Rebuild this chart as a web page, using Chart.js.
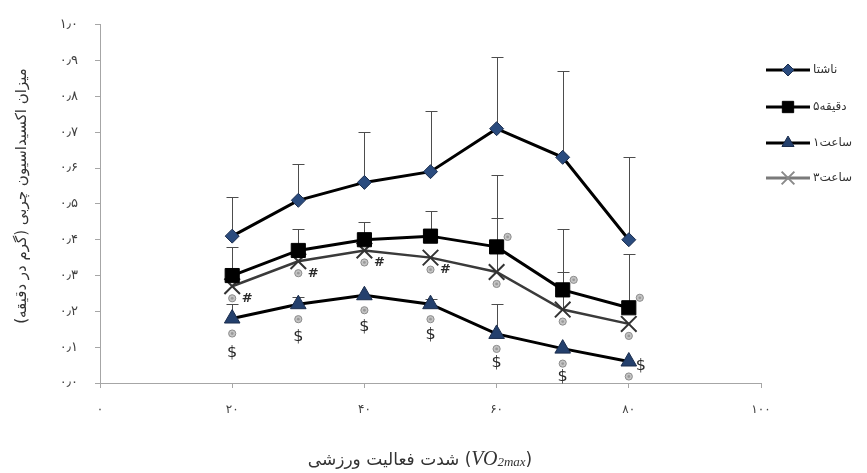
<!DOCTYPE html>
<html><head><meta charset="utf-8">
<script src="https://cdn.jsdelivr.net/npm/chart.js@4/dist/chart.umd.min.js"></script>
<style>html,body{margin:0;padding:0;background:#fff;}#wrap{width:867px;height:473px;position:relative;}</style>
</head><body><div id="wrap"><canvas id="c" width="867" height="473"></canvas></div>
<script>
// ---- data ----
const intensity = [20, 30, 40, 50, 60, 70, 80];
const seriesNames = ['ناشتا', '۵دقیقه', '۱ساعت', '۳ساعت'];
const fasting      = [0.41, 0.51, 0.56, 0.59, 0.71, 0.63, 0.40];
const fastingUpper = [0.52, 0.61, 0.70, 0.76, 0.91, 0.87, 0.63];
const min5         = [0.30, 0.37, 0.40, 0.41, 0.38, 0.26, 0.21];
const min5Upper    = [0.38, 0.43, 0.45, 0.48, 0.58, 0.43, 0.36];
const hour1        = [0.18, 0.22, 0.245, 0.22, 0.137, 0.096, 0.06];
const hour1Upper   = [0.22, 0.24, null, 0.235, 0.22, null, null];
const hour3        = [0.27, 0.34, 0.37, 0.35, 0.31, 0.205, 0.165];
const hour3Upper   = [null, null, null, null, 0.46, 0.31, null];
// significance marks
const hashFlags3h    = [1, 1, 1, 1, 0, 0, 0];
const dollarFlags1h  = [1, 1, 1, 1, 1, 1, 1];
const circleFlags5m  = [0, 0, 0, 0, 1, 1, 1];
const circleFlags1h  = [1, 1, 1, 1, 1, 1, 1];
const circleFlags3h  = [1, 1, 1, 1, 1, 1, 1];
const xTickLabels = ['۰', '۲۰', '۴۰', '۶۰', '۸۰', '۱۰۰'];
const yTickLabels = ['۰٫۰','۰٫۱','۰٫۲','۰٫۳','۰٫۴','۰٫۵','۰٫۶','۰٫۷','۰٫۸','۰٫۹','۱٫۰'];
const yTitle = 'میزان اکسیداسیون چربی (گرم در دقیقه)';
const xTitle = 'شدت فعالیت ورزشی';
const xTitleUnitMain = 'VO';
const xTitleUnitSub = '2max';

Chart.defaults.font.family = 'DejaVu Sans';
const toPts = arr => arr.map((v, i) => ({x: intensity[i], y: v}));

const datasets = [
  {label: seriesNames[0], data: toPts(fasting), values: fasting, upper: fastingUpper,
   borderColor: '#000', borderWidth: 3, pointStyle: 'rectRot', pointRadius: 7,
   pointBackgroundColor: '#2a4b7e', pointBorderColor: '#1b2d4d', pointBorderWidth: 1, order: 4},
  {label: seriesNames[1], data: toPts(min5), values: min5, upper: min5Upper,
   borderColor: '#000', borderWidth: 3, pointStyle: 'rect', pointRadius: 10,
   pointBackgroundColor: '#000', pointBorderColor: '#000', pointBorderWidth: 1, order: 2},
  {label: seriesNames[2], data: toPts(hour1), values: hour1, upper: hour1Upper,
   borderColor: '#000', borderWidth: 3, pointStyle: 'triangle', pointRadius: 9,
   pointBackgroundColor: '#24406d', pointBorderColor: '#1b2d4d', pointBorderWidth: 1, order: 1},
  {label: seriesNames[3], data: toPts(hour3), values: hour3, upper: hour3Upper,
   borderColor: '#3a3a3a', borderWidth: 2.5, pointStyle: 'crossRot', pointRadius: 11,
   pointBackgroundColor: '#fff', pointBorderColor: '#333', pointBorderWidth: 2, order: 3}
];

const errorBars = {
  id: 'errorBars',
  beforeDatasetsDraw(chart) {
    const {ctx, scales: {x, y}} = chart;
    ctx.save();
    ctx.strokeStyle = '#4d4d4d'; ctx.lineWidth = 1;
    chart.data.datasets.forEach(ds => {
      ds.upper.forEach((u, i) => {
        if (u == null) return;
        const px = Math.round(x.getPixelForValue(intensity[i])) + 0.5;
        const p0 = y.getPixelForValue(ds.values[i]);
        const p1 = Math.round(y.getPixelForValue(u)) + 0.5;
        ctx.beginPath();
        ctx.moveTo(px, p0); ctx.lineTo(px, p1);
        ctx.moveTo(px - 6, p1); ctx.lineTo(px + 6, p1);
        ctx.stroke();
      });
    });
    ctx.restore();
  }
};

function sigCircle(ctx, cx, cy) {
  ctx.beginPath(); ctx.arc(cx, cy, 3.6, 0, Math.PI * 2);
  ctx.fillStyle = '#c4c4c4'; ctx.fill();
  ctx.strokeStyle = '#8c8c8c'; ctx.lineWidth = 1; ctx.stroke();
  ctx.beginPath(); ctx.arc(cx, cy, 1.4, 0, Math.PI * 2);
  ctx.fillStyle = '#9a9a9a'; ctx.fill();
}

const annotations = {
  id: 'annotations',
  afterDatasetsDraw(chart) {
    const {ctx, scales: {x, y}} = chart;
    ctx.save();
    intensity.forEach((xv, i) => {
      const px = x.getPixelForValue(xv);
      if (circleFlags5m[i]) sigCircle(ctx, px + 11, y.getPixelForValue(min5[i]) - 10);
      if (circleFlags3h[i]) sigCircle(ctx, px, y.getPixelForValue(hour3[i]) + 12);
      if (circleFlags1h[i]) sigCircle(ctx, px, y.getPixelForValue(hour1[i]) + 15);
      ctx.fillStyle = '#2a2a2a';
      ctx.textAlign = 'center'; ctx.textBaseline = 'middle';
      if (hashFlags3h[i]) {
        ctx.font = 'bold 13px DejaVu Sans';
        ctx.fillText('#', px + 15, y.getPixelForValue(hour3[i]) + 12);
      }
      if (dollarFlags1h[i]) {
        ctx.font = '16px DejaVu Sans';
        const ty = y.getPixelForValue(hour1[i]);
        if (i === intensity.length - 1) ctx.fillText('$', px + 12, ty + 4);
        else ctx.fillText('$', px, ty + Math.max(27, 34 - i * 1.2));
      }
    });
    ctx.restore();
  },
  afterDraw(chart) {
    const {ctx} = chart;
    ctx.save();
    // legend
    const rows = [70, 107, 143, 178];
    chart.data.datasets.forEach((ds, i) => {
      const yy = rows[i];
      ctx.strokeStyle = i === 3 ? '#7a7a7a' : '#000';
      ctx.lineWidth = 3;
      ctx.beginPath(); ctx.moveTo(766, yy); ctx.lineTo(810, yy); ctx.stroke();
      const r = {rectRot: 6, rect: 8, triangle: 7, crossRot: 9}[ds.pointStyle];
      ctx.fillStyle = ds.pointBackgroundColor;
      ctx.strokeStyle = i === 3 ? '#8a8a8a' : ds.pointBorderColor;
      ctx.lineWidth = i === 3 ? 2 : 1;
      ctx.beginPath();
      Chart.helpers.drawPoint(ctx, {pointStyle: ds.pointStyle, radius: r, borderWidth: ctx.lineWidth}, 788, yy);
      ctx.fillStyle = '#333';
      ctx.font = '12px DejaVu Sans';
      ctx.textAlign = 'left'; ctx.textBaseline = 'middle';
      ctx.fillText(ds.label, 813, yy);
    });
    // y title
    ctx.save();
    ctx.translate(22, 196);
    ctx.rotate(-Math.PI / 2);
    ctx.direction = 'rtl';
    ctx.fillStyle = '#333';
    ctx.font = '15px DejaVu Sans';
    ctx.textAlign = 'center'; ctx.textBaseline = 'middle';
    ctx.fillText(yTitle, 0, 0);
    ctx.restore();
    // x title
    ctx.fillStyle = '#333';
    ctx.textBaseline = 'alphabetic';
    const f1 = '17px DejaVu Sans', f2 = 'italic 20px "Liberation Serif"', f3 = 'italic 13px "Liberation Serif"';
    ctx.font = f1; const w1 = ctx.measureText(xTitle + ' (').width;
    ctx.font = f2; const w2 = ctx.measureText(xTitleUnitMain).width;
    ctx.font = f3; const w3 = ctx.measureText(xTitleUnitSub).width;
    ctx.font = f1; const w4 = ctx.measureText(')').width;
    let sx = 420 - (w1 + w2 + w3 + w4) / 2;
    const by = 465;
    ctx.textAlign = 'left';
    ctx.font = f1; ctx.fillText(xTitle + ' (', sx, by); sx += w1;
    ctx.font = f2; ctx.fillText(xTitleUnitMain, sx, by); sx += w2;
    ctx.font = f3; ctx.fillText(xTitleUnitSub, sx, by + 1); sx += w3;
    ctx.font = f1; ctx.fillText(')', sx, by);
    ctx.restore();
  }
};

new Chart(document.getElementById('c'), {
  type: 'line',
  data: {datasets},
  options: {
    responsive: false, animation: false, devicePixelRatio: 1,
    layout: {padding: {left: 0, top: 17, right: 106, bottom: 0}},
    plugins: {legend: {display: false}, tooltip: {enabled: false}},
    scales: {
      x: {
        type: 'linear', min: 0, max: 100,
        ticks: {stepSize: 20, color: '#404040', font: {size: 12}, padding: 15, maxRotation: 0,
                callback: (v, i) => xTickLabels[i]},
        grid: {drawOnChartArea: false, tickLength: 5, color: '#a6a6a6'},
        border: {color: '#a6a6a6'},
        afterFit: s => { s.height = 90; }
      },
      y: {
        min: 0, max: 1,
        ticks: {stepSize: 0.1, color: '#404040', font: {size: 13}, padding: 17,
                callback: (v, i) => yTickLabels[i]},
        grid: {drawOnChartArea: false, tickLength: 5, color: '#a6a6a6'},
        border: {color: '#a6a6a6'},
        afterFit: s => { s.width = 100; }
      }
    }
  },
  plugins: [errorBars, annotations]
});
</script>
</body></html>
